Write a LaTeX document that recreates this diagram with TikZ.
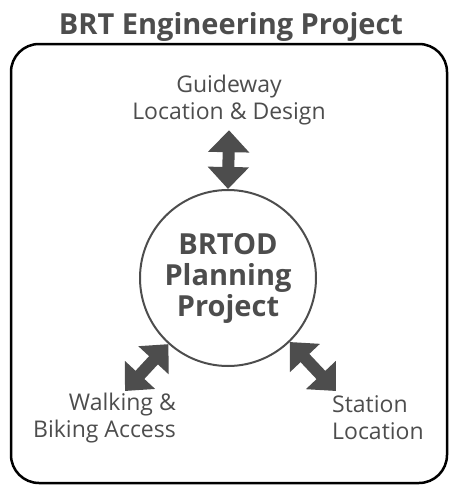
\documentclass[tikz,border=0pt]{standalone}
\usepackage{fontspec}
\setmainfont{Open Sans}
\usetikzlibrary{arrows.meta, positioning}
\definecolor{ink}{HTML}{4D4D4D}
\tikzset{
title/.style={text=ink, font=\bfseries\fontsize{29}{32}\selectfont, inner sep=0pt}, % heading above the frame
core/.style={circle, draw=ink, line width=2pt, minimum size=176pt, text=ink, align=center,
  font=\bfseries\fontsize{29}{31}\selectfont, inner sep=0pt}, % the planning circle
topic/.style={text=ink, font=\fontsize{23}{27}\selectfont, inner sep=0pt}, % the three topics
fat arrow/.style={ink, line width=12pt,
  {Triangle[width=40pt,length=22pt]}-{Triangle[width=40pt,length=22pt]}},
}

\begin{document}
\begin{tikzpicture}[x=1pt, y=-1pt]
        \useasboundingbox (0,0) rectangle (450,485);
        \draw[line width=2.5pt, rounded corners=28pt] (11,44) rectangle (447,483);

        \node[title] (head) at (231,27) {BRT Engineering Project};
        \node[core] (core) at (228,278) {BRTOD\\Planning\\Project};
        \node[topic, align=center] (guide) at (229,100) {Guideway\\Location \& Design};
        \node[topic, align=right, anchor=east] (walk) at (176,418) {Walking \&\\Biking Access};
        \node[topic, align=left, anchor=west] (station) at (332,418) {Station\\Location};

        \coordinate (walk tip) at (125,391);
        \coordinate (station tip) at (336,391);

        \draw[fat arrow] ([yshift=-5pt]guide.south) -- (core.north);
        \draw[fat arrow] (walk tip) -- (core.228);
        \draw[fat arrow] (station tip) -- (core.314);
    \end{tikzpicture}
\end{document}
